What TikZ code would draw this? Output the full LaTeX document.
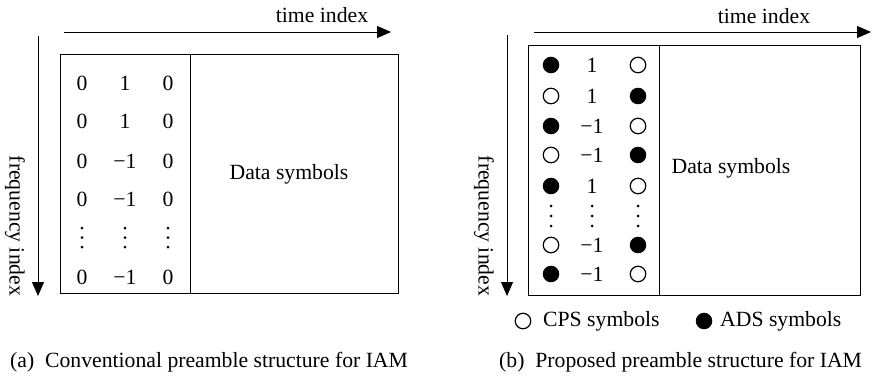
\documentclass[tikz,border=0pt]{standalone}
\usepackage{fontspec}
\setmainfont{Liberation Serif}
\usetikzlibrary{arrows.meta}
\begin{document}
\begin{tikzpicture}[x=1pt,y=-1pt,
  txt/.style={inner sep=0pt,font=\fontsize{21.7}{26}\selectfont},
  box/.style={draw,line width=1.3pt},
  divline/.style={line width=1pt},
  axis/.style={line width=1pt,-{Triangle[length=14pt,width=12pt]}},
  fsym/.style={circle,fill=black,draw,line width=1pt,minimum size=15.5pt,inner sep=0pt},
  osym/.style={circle,fill=white,draw,line width=1.2pt,minimum size=15.5pt,inner sep=0pt},
  dot/.style={circle,fill=black,inner sep=0pt,minimum size=3pt}]
\useasboundingbox (0,0) rectangle (872,375);
% ---------------- panel (a)
\coordinate (ta0) at (64,32); \coordinate (ta1) at (391,32);
\draw[axis] (ta0) -- (ta1);
\node[txt] (tia) at (322,15) {time index};
\coordinate (fa0) at (38,36); \coordinate (fa1) at (38,296);
\draw[axis] (fa0) -- (fa1);
\node[txt,rotate=-90] (fia) at (15,226) {frequency index};
\node[box,minimum width=338pt,minimum height=239pt,anchor=north west,inner sep=0pt] (boxa) at (60,54) {};
\coordinate (da0) at (190,54); \coordinate (da1) at (190,293);
\draw[divline] (da0) -- (da1);
\node[txt] (dsa) at (289,174) {Data symbols};
\foreach \y/\a/\b/\c [count=\i] in {83/0/1/0,121/0/1/0,161/0/−1/0,199/0/−1/0,277/0/−1/0}{
  \node[txt] (a\i c1) at (82,\y) {\a};
  \node[txt] (a\i c2) at (125,\y) {\b};
  \node[txt] (a\i c3) at (168,\y) {\c};
}
\foreach \x [count=\j] in {82,125,168}{
  \foreach \y [count=\k] in {228,237.5,247}{
    \node[dot] (adot\j\k) at (\x,\y) {};
  }
}
\node[txt,anchor=west] (capa) at (10,362) {(a)\hspace{0.5em}Conventional preamble structure for IAM};
% ---------------- panel (b)
\coordinate (tb0) at (534,32); \coordinate (tb1) at (871,32);
\draw[axis] (tb0) -- (tb1);
\node[txt] (tib) at (764,16) {time index};
\coordinate (fb0) at (507,35); \coordinate (fb1) at (507,296);
\draw[axis] (fb0) -- (fb1);
\node[txt,rotate=-90] (fib) at (484,226) {frequency index};
\node[box,minimum width=332pt,minimum height=250pt,anchor=north west,inner sep=0pt] (boxb) at (528,45) {};
\coordinate (db0) at (659,45); \coordinate (db1) at (659,295);
\draw[divline] (db0) -- (db1);
\node[txt] (dsb) at (731,168) {Data symbols};
\foreach \y/\a/\b/\c [count=\i] in {65/fsym/1/osym,96/osym/1/fsym,126/fsym/−1/osym,155/osym/−1/fsym,186/fsym/1/osym,245/osym/−1/fsym,274/fsym/−1/osym}{
  \node[\a] (b\i c1) at (551,\y) {};
  \node[txt] (b\i c2) at (592,\y) {\b};
  \node[\c] (b\i c3) at (638,\y) {};
}
\foreach \x [count=\j] in {551,592,638}{
  \foreach \y [count=\k] in {206,216,226}{
    \node[dot] (bdot\j\k) at (\x,\y) {};
  }
}
\node[osym] (legO) at (523,321) {};
\node[txt,anchor=west] (legOt) at (543,321) {CPS symbols};
\node[fsym] (legF) at (704,321) {};
\node[txt,anchor=west] (legFt) at (720,321) {ADS symbols};
\node[txt,anchor=west] (capb) at (499,362) {(b)\hspace{0.5em}Proposed preamble structure for IAM};
\end{tikzpicture}
\end{document}
